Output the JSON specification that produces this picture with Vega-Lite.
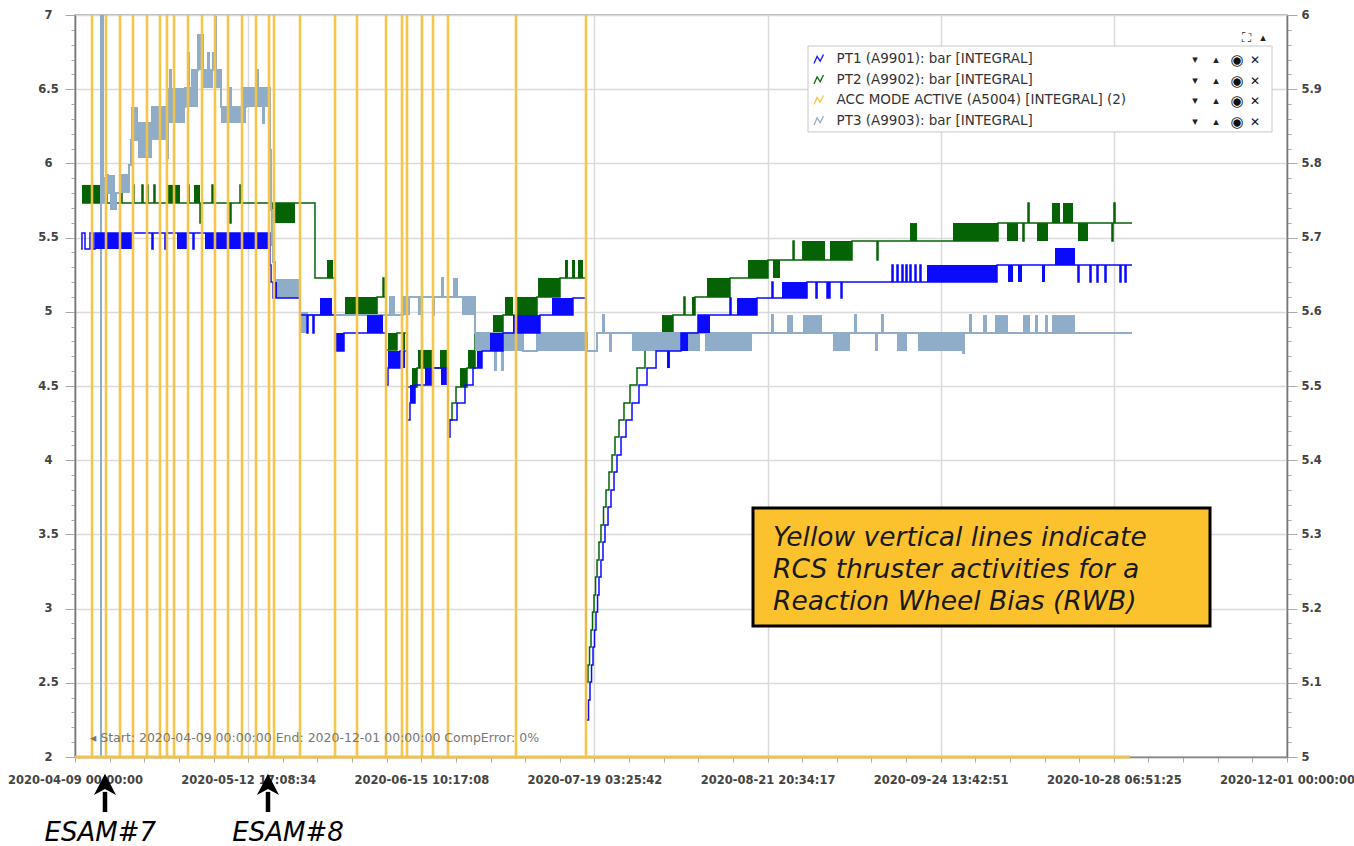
{
  "$schema": "https://vega.github.io/schema/vega-lite/v6.json",
  "width": 1212,
  "height": 742,
  "autosize": {"type": "none"},
  "padding": {"left": 75, "top": 15, "right": 67, "bottom": 89},
  "config": {"font": "DejaVu Sans", "view": {"stroke": "#a0a0a0", "strokeWidth": 1.5}},
  "datasets": {
    "pt": [
      {"s":"PT1","d":1.17,"v":5.423},{"s":"PT1","d":1.36,"v":5.531},{"s":"PT1","d":1.95,"v":5.423},{"s":"PT1","d":2.92,"v":5.531},{"s":"PT1","d":3.50,"v":5.423},{"s":"PT1","d":3.89,"v":5.531},
      {"s":"PT1","d":14.99,"v":5.423},{"s":"PT1","d":15.19,"v":5.531},{"s":"PT1","d":17.52,"v":5.423},{"s":"PT1","d":17.72,"v":5.531},{"s":"PT1","d":22.98,"v":5.423},{"s":"PT1","d":23.17,"v":5.531},
      {"s":"PT1","d":37.97,"v":5.315},{"s":"PT1","d":38.17,"v":5.201},{"s":"PT1","d":38.55,"v":5.093},{"s":"PT1","d":43.81,"v":4.978},{"s":"PT1","d":45.18,"v":4.857},{"s":"PT1","d":45.37,"v":4.978},
      {"s":"PT1","d":46.34,"v":4.857},{"s":"PT1","d":46.54,"v":4.978},{"s":"PT1","d":50.63,"v":4.736},{"s":"PT1","d":52.38,"v":4.857},{"s":"PT1","d":60.56,"v":4.507},{"s":"PT1","d":60.95,"v":4.621},
      {"s":"PT1","d":63.28,"v":4.736},{"s":"PT1","d":64.65,"v":4.271},{"s":"PT1","d":65.23,"v":4.385},{"s":"PT1","d":66.21,"v":4.507},{"s":"PT1","d":69.52,"v":4.621},{"s":"PT1","d":72.63,"v":4.156},
      {"s":"PT1","d":73.02,"v":4.271},{"s":"PT1","d":74.39,"v":4.385},{"s":"PT1","d":75.94,"v":4.507},{"s":"PT1","d":77.50,"v":4.621},{"s":"PT1","d":79.25,"v":4.736},{"s":"PT1","d":83.34,"v":4.857},
      {"s":"PT1","d":90.54,"v":4.978},{"s":"PT1","d":96.97,"v":5.093},{"s":"PT1","d":99.50,"v":2.250},{"s":"PT1","d":99.99,"v":2.384},{"s":"PT1","d":100.28,"v":2.505},{"s":"PT1","d":100.58,"v":2.620},
      {"s":"PT1","d":100.87,"v":2.741},{"s":"PT1","d":101.16,"v":2.856},{"s":"PT1","d":101.45,"v":2.977},{"s":"PT1","d":101.75,"v":3.092},{"s":"PT1","d":102.03,"v":3.213},{"s":"PT1","d":102.42,"v":3.328},
      {"s":"PT1","d":102.81,"v":3.449},{"s":"PT1","d":103.20,"v":3.563},{"s":"PT1","d":103.79,"v":3.685},{"s":"PT1","d":104.37,"v":3.800},{"s":"PT1","d":104.96,"v":3.920},{"s":"PT1","d":105.54,"v":4.035},
      {"s":"PT1","d":106.32,"v":4.156},{"s":"PT1","d":107.29,"v":4.271},{"s":"PT1","d":108.46,"v":4.385},{"s":"PT1","d":109.82,"v":4.507},{"s":"PT1","d":111.38,"v":4.621},{"s":"PT1","d":113.14,"v":4.736},
      {"s":"PT1","d":118.00,"v":4.857},{"s":"PT1","d":121.31,"v":4.978},{"s":"PT1","d":127.54,"v":5.093},{"s":"PT1","d":127.74,"v":4.978},{"s":"PT1","d":132.80,"v":5.093},{"s":"PT1","d":135.72,"v":5.201},
      {"s":"PT1","d":135.91,"v":5.093},{"s":"PT1","d":142.54,"v":5.201},{"s":"PT1","d":144.29,"v":5.093},{"s":"PT1","d":144.49,"v":5.201},{"s":"PT1","d":146.43,"v":5.093},{"s":"PT1","d":146.62,"v":5.201},
      {"s":"PT1","d":146.82,"v":5.093},{"s":"PT1","d":147.01,"v":5.201},{"s":"PT1","d":149.16,"v":5.093},{"s":"PT1","d":149.35,"v":5.201},{"s":"PT1","d":159.09,"v":5.315},{"s":"PT1","d":159.29,"v":5.201},
      {"s":"PT1","d":160.06,"v":5.315},{"s":"PT1","d":160.26,"v":5.201},{"s":"PT1","d":161.03,"v":5.315},{"s":"PT1","d":161.23,"v":5.201},{"s":"PT1","d":161.81,"v":5.315},{"s":"PT1","d":162.01,"v":5.201},
      {"s":"PT1","d":162.59,"v":5.315},{"s":"PT1","d":162.79,"v":5.201},{"s":"PT1","d":163.57,"v":5.315},{"s":"PT1","d":163.76,"v":5.201},{"s":"PT1","d":164.54,"v":5.315},{"s":"PT1","d":164.73,"v":5.201},
      {"s":"PT1","d":179.53,"v":5.315},{"s":"PT1","d":195.30,"v":5.201},{"s":"PT1","d":195.50,"v":5.315},{"s":"PT1","d":197.64,"v":5.201},{"s":"PT1","d":197.84,"v":5.315},{"s":"PT1","d":199.01,"v":5.201},
      {"s":"PT1","d":199.20,"v":5.315},{"s":"PT1","d":200.56,"v":5.201},{"s":"PT1","d":200.76,"v":5.315},{"s":"PT1","d":203.48,"v":5.201},{"s":"PT1","d":203.68,"v":5.315},{"s":"PT1","d":204.46,"v":5.201},
      {"s":"PT1","d":204.66,"v":5.315},{"s":"PT1","d":205.82,"v":5.315},

      {"s":"PT2","d":1.36,"v":5.733},{"s":"PT2","d":6.04,"v":5.855},{"s":"PT2","d":6.23,"v":5.733},{"s":"PT2","d":8.96,"v":5.855},{"s":"PT2","d":9.15,"v":5.733},{"s":"PT2","d":11.29,"v":5.855},
      {"s":"PT2","d":11.48,"v":5.733},{"s":"PT2","d":13.05,"v":5.855},{"s":"PT2","d":13.24,"v":5.733},{"s":"PT2","d":14.02,"v":5.855},{"s":"PT2","d":14.21,"v":5.733},{"s":"PT2","d":15.38,"v":5.855},
      {"s":"PT2","d":15.57,"v":5.733},{"s":"PT2","d":22.00,"v":5.855},{"s":"PT2","d":22.20,"v":5.733},{"s":"PT2","d":24.34,"v":5.598},{"s":"PT2","d":24.53,"v":5.733},{"s":"PT2","d":26.68,"v":5.855},
      {"s":"PT2","d":26.87,"v":5.733},{"s":"PT2","d":30.18,"v":5.598},{"s":"PT2","d":30.38,"v":5.733},{"s":"PT2","d":32.13,"v":5.855},{"s":"PT2","d":32.33,"v":5.733},{"s":"PT2","d":46.73,"v":5.228},
      {"s":"PT2","d":50.63,"v":4.978},{"s":"PT2","d":58.81,"v":5.100},{"s":"PT2","d":59.98,"v":5.228},{"s":"PT2","d":60.17,"v":5.100},{"s":"PT2","d":60.56,"v":4.743},{"s":"PT2","d":62.70,"v":4.857},
      {"s":"PT2","d":64.65,"v":4.493},{"s":"PT2","d":66.60,"v":4.621},{"s":"PT2","d":72.63,"v":4.271},{"s":"PT2","d":73.41,"v":4.385},{"s":"PT2","d":74.19,"v":4.493},{"s":"PT2","d":76.33,"v":4.621},
      {"s":"PT2","d":77.89,"v":4.857},{"s":"PT2","d":83.34,"v":4.978},{"s":"PT2","d":89.96,"v":5.100},{"s":"PT2","d":94.44,"v":5.228},{"s":"PT2","d":99.50,"v":2.505},{"s":"PT2","d":99.89,"v":2.620},
      {"s":"PT2","d":100.19,"v":2.741},{"s":"PT2","d":100.48,"v":2.856},{"s":"PT2","d":100.77,"v":2.977},{"s":"PT2","d":101.06,"v":3.092},{"s":"PT2","d":101.36,"v":3.213},{"s":"PT2","d":101.65,"v":3.328},
      {"s":"PT2","d":102.03,"v":3.449},{"s":"PT2","d":102.42,"v":3.563},{"s":"PT2","d":102.91,"v":3.685},{"s":"PT2","d":103.40,"v":3.800},{"s":"PT2","d":103.98,"v":3.920},{"s":"PT2","d":104.57,"v":4.035},
      {"s":"PT2","d":105.15,"v":4.156},{"s":"PT2","d":105.93,"v":4.271},{"s":"PT2","d":106.90,"v":4.385},{"s":"PT2","d":108.07,"v":4.507},{"s":"PT2","d":109.43,"v":4.621},{"s":"PT2","d":110.99,"v":4.743},
      {"s":"PT2","d":112.94,"v":4.857},{"s":"PT2","d":116.44,"v":4.978},{"s":"PT2","d":118.58,"v":5.100},{"s":"PT2","d":118.77,"v":4.978},{"s":"PT2","d":120.73,"v":5.100},{"s":"PT2","d":127.54,"v":5.228},
      {"s":"PT2","d":134.94,"v":5.349},{"s":"PT2","d":139.82,"v":5.477},{"s":"PT2","d":140.01,"v":5.349},{"s":"PT2","d":151.30,"v":5.477},{"s":"PT2","d":156.17,"v":5.349},{"s":"PT2","d":156.36,"v":5.477},
      {"s":"PT2","d":179.73,"v":5.598},{"s":"PT2","d":184.59,"v":5.477},{"s":"PT2","d":184.79,"v":5.598},{"s":"PT2","d":185.57,"v":5.733},{"s":"PT2","d":185.77,"v":5.598},{"s":"PT2","d":201.92,"v":5.477},
      {"s":"PT2","d":202.12,"v":5.598},{"s":"PT2","d":202.31,"v":5.733},{"s":"PT2","d":202.51,"v":5.598},{"s":"PT2","d":205.82,"v":5.598},

      {"s":"PT3","d":4.67,"v":1.5},{"s":"PT3","d":5.06,"v":7.5},{"s":"PT3","d":5.45,"v":5.733},{"s":"PT3","d":5.65,"v":5.855},{"s":"PT3","d":6.23,"v":5.922},{"s":"PT3","d":6.43,"v":5.801},
      {"s":"PT3","d":8.76,"v":5.922},{"s":"PT3","d":10.51,"v":5.989},{"s":"PT3","d":10.90,"v":6.158},{"s":"PT3","d":12.27,"v":6.272},{"s":"PT3","d":14.99,"v":6.380},{"s":"PT3","d":17.91,"v":6.036},
      {"s":"PT3","d":18.11,"v":6.380},{"s":"PT3","d":18.50,"v":6.629},{"s":"PT3","d":18.69,"v":6.380},{"s":"PT3","d":21.42,"v":6.508},{"s":"PT3","d":22.00,"v":6.744},{"s":"PT3","d":22.20,"v":6.508},
      {"s":"PT3","d":22.78,"v":6.629},{"s":"PT3","d":23.95,"v":6.865},{"s":"PT3","d":24.92,"v":6.629},{"s":"PT3","d":25.90,"v":6.744},{"s":"PT3","d":26.09,"v":6.629},{"s":"PT3","d":26.87,"v":6.744},
      {"s":"PT3","d":27.07,"v":6.629},{"s":"PT3","d":27.26,"v":6.987},{"s":"PT3","d":27.46,"v":6.629},{"s":"PT3","d":28.43,"v":6.380},{"s":"PT3","d":30.18,"v":6.508},{"s":"PT3","d":30.38,"v":6.380},
      {"s":"PT3","d":32.71,"v":6.508},{"s":"PT3","d":32.91,"v":6.380},{"s":"PT3","d":33.30,"v":6.508},{"s":"PT3","d":35.44,"v":6.629},{"s":"PT3","d":35.63,"v":6.508},{"s":"PT3","d":36.61,"v":6.272},
      {"s":"PT3","d":36.80,"v":6.508},{"s":"PT3","d":37.97,"v":6.090},{"s":"PT3","d":38.17,"v":5.686},{"s":"PT3","d":38.36,"v":5.450},{"s":"PT3","d":38.55,"v":5.336},{"s":"PT3","d":38.94,"v":5.214},
      {"s":"PT3","d":43.81,"v":4.992},{"s":"PT3","d":45.18,"v":4.978},{"s":"PT3","d":61.34,"v":5.100},{"s":"PT3","d":61.53,"v":4.978},{"s":"PT3","d":61.92,"v":5.100},{"s":"PT3","d":62.11,"v":4.978},
      {"s":"PT3","d":63.87,"v":5.100},{"s":"PT3","d":69.71,"v":4.978},{"s":"PT3","d":69.90,"v":5.100},{"s":"PT3","d":71.46,"v":5.228},{"s":"PT3","d":71.66,"v":5.100},{"s":"PT3","d":77.89,"v":4.857},
      {"s":"PT3","d":81.78,"v":4.608},{"s":"PT3","d":81.97,"v":4.857},{"s":"PT3","d":83.14,"v":4.608},{"s":"PT3","d":83.34,"v":4.857},{"s":"PT3","d":87.23,"v":4.736},{"s":"PT3","d":89.96,"v":4.857},
      {"s":"PT3","d":99.70,"v":4.736},{"s":"PT3","d":101.65,"v":4.857},{"s":"PT3","d":102.81,"v":4.978},{"s":"PT3","d":103.01,"v":4.857},{"s":"PT3","d":104.18,"v":4.736},{"s":"PT3","d":104.37,"v":4.857},
      {"s":"PT3","d":135.72,"v":4.978},{"s":"PT3","d":135.91,"v":4.857},{"s":"PT3","d":151.88,"v":4.978},{"s":"PT3","d":152.08,"v":4.857},{"s":"PT3","d":157.14,"v":4.978},{"s":"PT3","d":157.33,"v":4.857},
      {"s":"PT3","d":172.91,"v":4.722},{"s":"PT3","d":173.10,"v":4.857},{"s":"PT3","d":174.27,"v":4.978},{"s":"PT3","d":174.47,"v":4.857},{"s":"PT3","d":205.82,"v":4.857}
    ],
    "bands": [
      {"s":"PT1","d1":3.89,"d2":11.10,"v1":5.423,"v2":5.531},{"s":"PT1","d1":19.86,"d2":21.81,"v1":5.423,"v2":5.531},{"s":"PT1","d1":25.31,"d2":37.78,"v1":5.423,"v2":5.531},
      {"s":"PT1","d1":38.94,"d2":39.33,"v1":5.093,"v2":5.201},{"s":"PT1","d1":47.71,"d2":50.04,"v1":4.978,"v2":5.093},{"s":"PT1","d1":50.82,"d2":52.38,"v1":4.736,"v2":4.857},
      {"s":"PT1","d1":56.86,"d2":59.98,"v1":4.857,"v2":4.978},{"s":"PT1","d1":60.95,"d2":63.28,"v1":4.621,"v2":4.736},{"s":"PT1","d1":63.67,"d2":64.26,"v1":4.621,"v2":4.736},
      {"s":"PT1","d1":65.23,"d2":66.21,"v1":4.385,"v2":4.507},{"s":"PT1","d1":68.15,"d2":69.52,"v1":4.507,"v2":4.621},{"s":"PT1","d1":71.27,"d2":72.44,"v1":4.507,"v2":4.621},
      {"s":"PT1","d1":78.28,"d2":79.25,"v1":4.621,"v2":4.736},{"s":"PT1","d1":80.81,"d2":83.34,"v1":4.736,"v2":4.857},{"s":"PT1","d1":85.29,"d2":90.54,"v1":4.857,"v2":4.978},
      {"s":"PT1","d1":92.88,"d2":96.97,"v1":4.978,"v2":5.093},{"s":"PT1","d1":115.27,"d2":115.85,"v1":4.621,"v2":4.736},{"s":"PT1","d1":118.00,"d2":119.37,"v1":4.736,"v2":4.857},
      {"s":"PT1","d1":121.31,"d2":123.65,"v1":4.857,"v2":4.978},{"s":"PT1","d1":128.91,"d2":132.80,"v1":4.978,"v2":5.093},{"s":"PT1","d1":137.67,"d2":142.54,"v1":5.093,"v2":5.201},
      {"s":"PT1","d1":165.90,"d2":179.53,"v1":5.201,"v2":5.315},{"s":"PT1","d1":181.67,"d2":182.65,"v1":5.201,"v2":5.315},{"s":"PT1","d1":183.62,"d2":184.40,"v1":5.201,"v2":5.315},
      {"s":"PT1","d1":188.29,"d2":188.88,"v1":5.201,"v2":5.315},{"s":"PT1","d1":190.83,"d2":194.72,"v1":5.315,"v2":5.430},

      {"s":"PT2","d1":1.36,"d2":4.87,"v1":5.733,"v2":5.855},{"s":"PT2","d1":17.91,"d2":20.45,"v1":5.733,"v2":5.855},{"s":"PT2","d1":23.17,"d2":24.34,"v1":5.733,"v2":5.855},
      {"s":"PT2","d1":38.36,"d2":42.84,"v1":5.598,"v2":5.733},{"s":"PT2","d1":49.07,"d2":50.24,"v1":5.228,"v2":5.349},{"s":"PT2","d1":52.58,"d2":58.81,"v1":4.978,"v2":5.100},
      {"s":"PT2","d1":60.95,"d2":62.70,"v1":4.743,"v2":4.857},{"s":"PT2","d1":63.67,"d2":64.26,"v1":4.743,"v2":4.857},{"s":"PT2","d1":65.62,"d2":66.60,"v1":4.493,"v2":4.621},
      {"s":"PT2","d1":66.79,"d2":69.52,"v1":4.621,"v2":4.743},{"s":"PT2","d1":71.07,"d2":72.44,"v1":4.621,"v2":4.743},{"s":"PT2","d1":74.97,"d2":76.33,"v1":4.493,"v2":4.621},
      {"s":"PT2","d1":76.53,"d2":77.89,"v1":4.621,"v2":4.743},{"s":"PT2","d1":81.39,"d2":83.34,"v1":4.857,"v2":4.978},{"s":"PT2","d1":83.73,"d2":85.29,"v1":4.978,"v2":5.100},
      {"s":"PT2","d1":86.07,"d2":89.96,"v1":4.978,"v2":5.100},{"s":"PT2","d1":90.15,"d2":94.44,"v1":5.100,"v2":5.228},{"s":"PT2","d1":95.41,"d2":95.99,"v1":5.228,"v2":5.349},
      {"s":"PT2","d1":96.77,"d2":97.36,"v1":5.228,"v2":5.349},{"s":"PT2","d1":97.94,"d2":98.92,"v1":5.228,"v2":5.349},{"s":"PT2","d1":114.30,"d2":116.44,"v1":4.857,"v2":4.978},
      {"s":"PT2","d1":120.14,"d2":120.73,"v1":4.978,"v2":5.100},{"s":"PT2","d1":123.06,"d2":127.54,"v1":5.100,"v2":5.228},{"s":"PT2","d1":131.05,"d2":134.94,"v1":5.228,"v2":5.349},
      {"s":"PT2","d1":135.91,"d2":137.28,"v1":5.228,"v2":5.349},{"s":"PT2","d1":141.57,"d2":146.04,"v1":5.349,"v2":5.477},{"s":"PT2","d1":147.01,"d2":151.30,"v1":5.349,"v2":5.477},
      {"s":"PT2","d1":162.59,"d2":163.96,"v1":5.477,"v2":5.598},{"s":"PT2","d1":170.96,"d2":179.73,"v1":5.477,"v2":5.598},{"s":"PT2","d1":181.48,"d2":183.62,"v1":5.477,"v2":5.598},
      {"s":"PT2","d1":187.32,"d2":189.46,"v1":5.477,"v2":5.598},{"s":"PT2","d1":190.24,"d2":191.80,"v1":5.598,"v2":5.733},{"s":"PT2","d1":192.38,"d2":194.33,"v1":5.598,"v2":5.733},
      {"s":"PT2","d1":195.30,"d2":197.25,"v1":5.477,"v2":5.598},

      {"s":"PT3","d1":5.26,"d2":6.23,"v1":5.733,"v2":5.908},{"s":"PT3","d1":6.23,"d2":7.79,"v1":5.801,"v2":5.922},{"s":"PT3","d1":6.82,"d2":8.18,"v1":5.686,"v2":5.801},
      {"s":"PT3","d1":8.76,"d2":10.71,"v1":5.801,"v2":5.922},{"s":"PT3","d1":10.90,"d2":12.27,"v1":6.158,"v2":6.380},{"s":"PT3","d1":12.27,"d2":14.99,"v1":6.036,"v2":6.272},
      {"s":"PT3","d1":14.99,"d2":17.91,"v1":6.158,"v2":6.380},{"s":"PT3","d1":18.11,"d2":21.42,"v1":6.272,"v2":6.508},{"s":"PT3","d1":21.42,"d2":22.78,"v1":6.380,"v2":6.508},
      {"s":"PT3","d1":22.78,"d2":23.95,"v1":6.380,"v2":6.629},{"s":"PT3","d1":23.95,"d2":24.92,"v1":6.629,"v2":6.865},{"s":"PT3","d1":24.92,"d2":26.87,"v1":6.508,"v2":6.629},
      {"s":"PT3","d1":27.46,"d2":28.43,"v1":6.508,"v2":6.629},{"s":"PT3","d1":28.43,"d2":33.30,"v1":6.272,"v2":6.380},{"s":"PT3","d1":33.30,"d2":37.78,"v1":6.380,"v2":6.508},
      {"s":"PT3","d1":38.94,"d2":43.81,"v1":5.093,"v2":5.214},{"s":"PT3","d1":43.81,"d2":45.18,"v1":4.857,"v2":4.992},{"s":"PT3","d1":63.87,"d2":65.23,"v1":4.978,"v2":5.100},
      {"s":"PT3","d1":66.79,"d2":67.76,"v1":4.978,"v2":5.100},{"s":"PT3","d1":73.61,"d2":74.58,"v1":5.100,"v2":5.228},{"s":"PT3","d1":75.36,"d2":77.89,"v1":4.978,"v2":5.100},
      {"s":"PT3","d1":77.89,"d2":83.34,"v1":4.736,"v2":4.857},{"s":"PT3","d1":83.34,"d2":87.23,"v1":4.736,"v2":4.857},{"s":"PT3","d1":89.96,"d2":99.70,"v1":4.736,"v2":4.857},
      {"s":"PT3","d1":108.46,"d2":113.91,"v1":4.736,"v2":4.857},{"s":"PT3","d1":113.91,"d2":121.70,"v1":4.736,"v2":4.857},{"s":"PT3","d1":122.67,"d2":131.83,"v1":4.736,"v2":4.857},
      {"s":"PT3","d1":138.65,"d2":139.82,"v1":4.857,"v2":4.978},{"s":"PT3","d1":141.76,"d2":145.46,"v1":4.857,"v2":4.978},{"s":"PT3","d1":147.60,"d2":150.91,"v1":4.736,"v2":4.857},
      {"s":"PT3","d1":155.78,"d2":156.36,"v1":4.736,"v2":4.857},{"s":"PT3","d1":160.06,"d2":162.01,"v1":4.736,"v2":4.857},{"s":"PT3","d1":164.15,"d2":172.91,"v1":4.736,"v2":4.857},
      {"s":"PT3","d1":176.81,"d2":177.59,"v1":4.857,"v2":4.978},{"s":"PT3","d1":179.14,"d2":181.67,"v1":4.857,"v2":4.978},{"s":"PT3","d1":184.59,"d2":185.96,"v1":4.857,"v2":4.978},
      {"s":"PT3","d1":186.93,"d2":187.52,"v1":4.857,"v2":4.978},{"s":"PT3","d1":188.88,"d2":189.46,"v1":4.857,"v2":4.978},{"s":"PT3","d1":190.24,"d2":194.72,"v1":4.857,"v2":4.978}
    ],
    "acc": [
      {"s":"ACC","d":3.31},{"s":"ACC","d":6.04},{"s":"ACC","d":8.76},{"s":"ACC","d":11.29},{"s":"ACC","d":14.02},{"s":"ACC","d":16.55},{"s":"ACC","d":17.91},
      {"s":"ACC","d":19.28},{"s":"ACC","d":22.00},{"s":"ACC","d":24.73},{"s":"ACC","d":27.26},{"s":"ACC","d":29.79},{"s":"ACC","d":32.52},{"s":"ACC","d":35.24},
      {"s":"ACC","d":37.78},{"s":"ACC","d":38.75},{"s":"ACC","d":43.81},{"s":"ACC","d":50.63},{"s":"ACC","d":54.91},{"s":"ACC","d":60.56},{"s":"ACC","d":63.67},
      {"s":"ACC","d":64.65},{"s":"ACC","d":67.57},{"s":"ACC","d":69.71},{"s":"ACC","d":72.63},{"s":"ACC","d":85.87},{"s":"ACC","d":99.50}
    ],
    "accbase": [{"s":"ACC","d1":0,"d2":205.43,"v":2}],
    "esam": [{"label":"ESAM#7","d":5.84,"dt":4.93},{"label":"ESAM#8","d":37.58,"dt":41.47}]
  },
  "layer": [
    {
      "layer": [
        {
          "data": {"name": "bands"},
          "transform": [{"filter": "datum.s == 'PT2'"}],
          "mark": {"type": "rect", "color": "#056305"},
          "encoding": {
            "x": {"field": "d1", "type": "quantitative", "scale": {"domain": [0, 236], "nice": false, "zero": false},
              "axis": {"title": null, "tickCount": 200,
                "values": [0,6.742857,13.485714,20.228571,26.971429,33.714286,40.457143,47.2,53.942857,60.685714,67.428571,74.171429,80.914286,87.657143,94.4,101.142857,107.885714,114.628571,121.371429,128.114286,134.857143,141.6,148.342857,155.085714,161.828571,168.571429,175.314286,182.057143,188.8,195.542857,202.285714,209.028571,215.771429,222.514286,229.257143,236],
                "labelExpr": "round(datum.value*35/236) % 5 == 0 ? utcFormat(1586390400000 + datum.value*86400000, '%Y-%m-%d %H:%M:%S') : ''",
                "labelOverlap": false, "labelFlush": false, "labelBound": false,
                "grid": true,
                "gridOpacity": {"condition": {"test": "round(datum.value*35/236) % 5 == 0", "value": 1}, "value": 0},
                "gridColor": "#dadada", "gridWidth": 1.5,
                "tickSize": 5, "tickColor": "#aaaaaa", "domainColor": "#8a8a8a", "domainWidth": 1.5,
                "labelFont": "DejaVu Sans", "labelFontSize": 11.5, "labelFontWeight": "bold", "labelColor": "#444444", "labelPadding": 12}},
            "x2": {"field": "d2"},
            "y": {"field": "v1", "type": "quantitative", "scale": {"domain": [2, 7], "nice": false, "zero": false},
              "axis": {"title": null, "tickCount": 200,
                "values": [2,2.1,2.2,2.3,2.4,2.5,2.6,2.7,2.8,2.9,3,3.1,3.2,3.3,3.4,3.5,3.6,3.7,3.8,3.9,4,4.1,4.2,4.3,4.4,4.5,4.6,4.7,4.8,4.9,5,5.1,5.2,5.3,5.4,5.5,5.6,5.7,5.8,5.9,6,6.1,6.2,6.3,6.4,6.5,6.6,6.7,6.8,6.9,7],
                "labelExpr": "abs(datum.value*2 - round(datum.value*2)) < 0.01 ? toString(round(datum.value*10)/10) : ''",
                "labelOverlap": false, "labelFlush": false, "labelBound": false,
                "grid": true,
                "gridOpacity": {"condition": {"test": "abs(datum.value*2 - round(datum.value*2)) < 0.01", "value": 1}, "value": 0},
                "gridColor": "#dadada", "gridWidth": 1.5,
                "tickSize": {"condition": {"test": "abs(datum.value*2 - round(datum.value*2)) < 0.01", "value": 10}, "value": 4},
                "tickColor": "#aaaaaa", "domainColor": "#777777", "domainWidth": 1.5,
                "labelAlign": "center",
                "labelFont": "DejaVu Sans", "labelFontSize": 11.5, "labelFontWeight": "bold", "labelColor": "#444444", "labelPadding": 17}},
            "y2": {"field": "v2"}
          }
        },
        {
          "data": {"name": "pt"},
          "transform": [{"filter": "datum.s == 'PT2'"}],
          "mark": {"type": "line", "interpolate": "step-after", "strokeWidth": 1.5, "clip": true},
          "encoding": {
            "x": {"field": "d", "type": "quantitative"},
            "y": {"field": "v", "type": "quantitative"},
            "color": {"field": "s", "type": "nominal", "scale": {"domain": ["PT1","PT2","ACC","PT3"], "range": ["#0a0aff","#056305","#f5c342","#8fadc8"]}}
          }
        },
        {
          "data": {"name": "bands"},
          "transform": [{"filter": "datum.s == 'PT3'"}],
          "mark": {"type": "rect", "color": "#8fadc8"},
          "encoding": {
            "x": {"field": "d1", "type": "quantitative"},
            "x2": {"field": "d2"},
            "y": {"field": "v1", "type": "quantitative"},
            "y2": {"field": "v2"}
          }
        },
        {
          "data": {"name": "pt"},
          "transform": [{"filter": "datum.s == 'PT3'"}],
          "mark": {"type": "line", "interpolate": "step-after", "strokeWidth": 2, "clip": true},
          "encoding": {
            "x": {"field": "d", "type": "quantitative"},
            "y": {"field": "v", "type": "quantitative"},
            "color": {"field": "s", "type": "nominal", "scale": {"domain": ["PT1","PT2","ACC","PT3"], "range": ["#0a0aff","#056305","#f5c342","#8fadc8"]}}
          }
        },
        {
          "data": {"name": "bands"},
          "transform": [{"filter": "datum.s == 'PT1'"}],
          "mark": {"type": "rect", "color": "#0a0aff"},
          "encoding": {
            "x": {"field": "d1", "type": "quantitative"},
            "x2": {"field": "d2"},
            "y": {"field": "v1", "type": "quantitative"},
            "y2": {"field": "v2"}
          }
        },
        {
          "data": {"name": "pt"},
          "transform": [{"filter": "datum.s == 'PT1'"}],
          "mark": {"type": "line", "interpolate": "step-after", "strokeWidth": 1.5, "clip": true},
          "encoding": {
            "x": {"field": "d", "type": "quantitative"},
            "y": {"field": "v", "type": "quantitative"},
            "color": {"field": "s", "type": "nominal", "scale": {"domain": ["PT1","PT2","ACC","PT3"], "range": ["#0a0aff","#056305","#f5c342","#8fadc8"]},
              "legend": {"orient": "none", "legendX": 737, "legendY": 37.5, "title": null, "direction": "vertical", "padding": 0, "rowPadding": 5.5,
                "symbolType": "M-1,0.9L-0.35,-0.6L0.3,0.4L1,-1", "symbolSize": 90, "symbolStrokeWidth": 1.3,
                "labelFont": "DejaVu Sans", "labelFontSize": 13.5, "labelColor": "#333333", "labelOffset": 11, "labelLimit": 400,
                "labelExpr": "datum.label == 'PT1' ? 'PT1 (A9901): bar [INTEGRAL]' : datum.label == 'PT2' ? 'PT2 (A9902): bar [INTEGRAL]' : datum.label == 'ACC' ? 'ACC MODE ACTIVE (A5004) [INTEGRAL] (2)' : 'PT3 (A9903): bar [INTEGRAL]'"}}
          }
        },
        {
          "data": {"name": "acc"},
          "mark": {"type": "rule", "strokeWidth": 2.6, "opacity": 0.95},
          "encoding": {
            "x": {"field": "d", "type": "quantitative"},
            "color": {"field": "s", "type": "nominal", "scale": {"domain": ["PT1","PT2","ACC","PT3"], "range": ["#0a0aff","#056305","#f5c342","#8fadc8"]}}
          }
        },
        {
          "data": {"name": "accbase"},
          "mark": {"type": "rule", "strokeWidth": 3, "color": "#f0c050"},
          "encoding": {
            "x": {"field": "d1", "type": "quantitative"},
            "x2": {"field": "d2"},
            "y": {"field": "v", "type": "quantitative"}
          }
        },
        {
          "data": {"values": [{}]},
          "mark": {"type": "rect", "fill": "#ffffff", "stroke": "#c8c8c8", "strokeWidth": 1},
          "encoding": {
            "x": {"datum": 142.73, "type": "quantitative"},
            "x2": {"datum": 233.08},
            "y": {"datum": 6.791, "type": "quantitative"},
            "y2": {"datum": 6.212}
          }
        },
        {
          "data": {"values": [{}]},
          "mark": {"type": "text", "text": ["▾","▾","▾","▾"], "lineHeight": 20.5, "fontSize": 11, "color": "#222222", "align": "center", "baseline": "middle"},
          "encoding": {"x": {"datum": 218.09, "type": "quantitative"}, "y": {"datum": 6.694, "type": "quantitative"}}
        },
        {
          "data": {"values": [{}]},
          "mark": {"type": "text", "text": ["▴","▴","▴","▴"], "lineHeight": 20.5, "fontSize": 11, "color": "#222222", "align": "center", "baseline": "middle"},
          "encoding": {"x": {"datum": 222.18, "type": "quantitative"}, "y": {"datum": 6.694, "type": "quantitative"}}
        },
        {
          "data": {"values": [{}]},
          "mark": {"type": "text", "text": ["◉","◉","◉","◉"], "lineHeight": 20.5, "fontSize": 15, "fontWeight": "bold", "color": "#111111", "align": "center", "baseline": "middle"},
          "encoding": {"x": {"datum": 226.26, "type": "quantitative"}, "y": {"datum": 6.694, "type": "quantitative"}}
        },
        {
          "data": {"values": [{}]},
          "mark": {"type": "text", "text": ["✕","✕","✕","✕"], "lineHeight": 20.5, "fontSize": 12, "fontWeight": "bold", "color": "#111111", "align": "center", "baseline": "middle"},
          "encoding": {"x": {"datum": 229.77, "type": "quantitative"}, "y": {"datum": 6.694, "type": "quantitative"}}
        },
        {
          "data": {"values": [{}]},
          "mark": {"type": "text", "text": "⛶", "fontSize": 13, "color": "#222222", "align": "center", "baseline": "middle"},
          "encoding": {"x": {"datum": 228.21, "type": "quantitative"}, "y": {"datum": 6.845, "type": "quantitative"}}
        },
        {
          "data": {"values": [{}]},
          "mark": {"type": "text", "text": "▴", "fontSize": 11, "color": "#222222", "align": "center", "baseline": "middle"},
          "encoding": {"x": {"datum": 231.33, "type": "quantitative"}, "y": {"datum": 6.845, "type": "quantitative"}}
        },
        {
          "data": {"values": [{}]},
          "mark": {"type": "rect", "fill": "#fcc22e", "stroke": "#000000", "strokeWidth": 3},
          "encoding": {
            "x": {"datum": 132.02, "type": "quantitative"},
            "x2": {"datum": 221.01},
            "y": {"datum": 3.678, "type": "quantitative"},
            "y2": {"datum": 2.883}
          }
        },
        {
          "data": {"values": [{}]},
          "mark": {"type": "text", "text": ["Yellow vertical lines indicate", "RCS thruster activities for a", "Reaction Wheel Bias (RWB)"], "lineHeight": 32, "fontSize": 26.5, "fontStyle": "italic", "font": "DejaVu Sans", "color": "#1a1a1a", "align": "left", "baseline": "middle"},
          "encoding": {"x": {"datum": 135.91, "type": "quantitative"}, "y": {"datum": 3.475, "type": "quantitative"}}
        },
        {
          "data": {"values": [{}]},
          "mark": {"type": "text", "text": "◂ Start: 2020-04-09 00:00:00 End: 2020-12-01 00:00:00 CompError: 0%", "fontSize": 12.5, "color": "#777777", "align": "left", "baseline": "middle"},
          "encoding": {"x": {"datum": 2.92, "type": "quantitative"}, "y": {"datum": 2.128, "type": "quantitative"}}
        },
        {
          "data": {"name": "esam"},
          "mark": {"type": "rule", "strokeWidth": 4.5, "color": "#000000"},
          "encoding": {
            "x": {"field": "d", "type": "quantitative"},
            "y": {"datum": 1.765, "type": "quantitative"},
            "y2": {"datum": 1.629}
          }
        },
        {
          "data": {"name": "esam"},
          "mark": {"type": "point", "shape": "M0,-1L0.9,0.75L0,0.25L-0.9,0.75Z", "size": 600, "filled": true, "color": "#000000", "opacity": 1},
          "encoding": {
            "x": {"field": "d", "type": "quantitative"},
            "y": {"datum": 1.805, "type": "quantitative"}
          }
        },
        {
          "data": {"name": "esam"},
          "mark": {"type": "text", "fontSize": 26, "fontStyle": "italic", "color": "#000000", "align": "center", "baseline": "middle"},
          "encoding": {
            "x": {"field": "dt", "type": "quantitative"},
            "y": {"datum": 1.488, "type": "quantitative"},
            "text": {"field": "label"}
          }
        }
      ]
    },
    {
      "data": {"values": [{"r": 5}, {"r": 6}]},
      "mark": {"type": "point", "opacity": 0},
      "encoding": {
        "y": {"field": "r", "type": "quantitative", "scale": {"domain": [5, 6], "nice": false, "zero": false},
          "axis": {"orient": "right", "title": null, "grid": false, "tickCount": 200,
            "values": [5,5.02,5.04,5.06,5.08,5.1,5.12,5.14,5.16,5.18,5.2,5.22,5.24,5.26,5.28,5.3,5.32,5.34,5.36,5.38,5.4,5.42,5.44,5.46,5.48,5.5,5.52,5.54,5.56,5.58,5.6,5.62,5.64,5.66,5.68,5.7,5.72,5.74,5.76,5.78,5.8,5.82,5.84,5.86,5.88,5.9,5.92,5.94,5.96,5.98,6],
            "labelExpr": "abs(datum.value*10 - round(datum.value*10)) < 0.01 ? toString(round(datum.value*10)/10) : ''",
            "labelOverlap": false, "labelFlush": false, "labelBound": false,
            "tickSize": {"condition": {"test": "abs(datum.value*10 - round(datum.value*10)) < 0.01", "value": 10}, "value": 4},
            "tickColor": "#aaaaaa", "domainColor": "#777777", "domainWidth": 1.5,
            "labelFont": "DejaVu Sans", "labelFontSize": 11.5, "labelFontWeight": "bold", "labelColor": "#444444", "labelPadding": 4}}
      }
    }
  ],
  "resolve": {"scale": {"y": "independent"}}
}
